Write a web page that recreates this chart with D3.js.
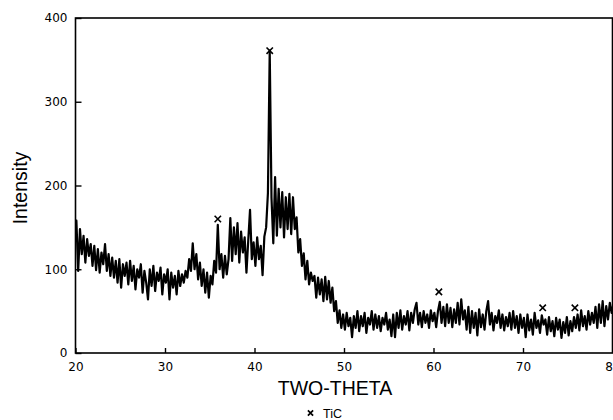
<!DOCTYPE html>
<html>
<head>
<meta charset="utf-8">
<script src="https://cdn.jsdelivr.net/npm/d3@7/dist/d3.min.js"></script>
<style>
  html, body { margin: 0; padding: 0; background: #fff; }
  svg { display: block; }
</style>
</head>
<body>
<svg id="chart" width="613" height="420"></svg>
<script>
// ---- data ----
// two-theta grid: starts at 19.9, step 0.2
const thetaStart = 19.9;
const thetaStep = 0.2;
const intensity = [
  150, 158, 98, 148, 118, 140, 108, 136, 116, 130,
  104, 128, 99, 124, 96, 120, 106, 130, 98, 118,
  92, 114, 90, 110, 84, 112, 78, 106, 92, 108,
  82, 110, 86, 104, 76, 100, 90, 106, 72, 98,
  84, 64, 100, 80, 104, 74, 96, 86, 102, 70,
  94, 84, 100, 64, 96, 78, 92, 70, 98, 80,
  94, 84, 98, 90, 112, 98, 131, 100, 118, 88,
  108, 80, 100, 72, 96, 66, 92, 82, 110, 96,
  153, 100, 118, 90, 116, 94, 112, 161, 110, 150,
  118, 155, 108, 145, 120, 138, 96, 134, 171, 112,
  132, 104, 138, 112, 128, 93, 139, 150, 191, 361,
  185, 131, 210, 140, 196, 150, 192, 138, 186, 148,
  190, 142, 186, 148, 162, 120, 136, 104, 119, 88,
  110, 82, 96, 86, 92, 66, 90, 70, 88, 62,
  91, 64, 86, 60, 78, 50, 62, 36, 51, 30,
  46, 28, 48, 32, 42, 19, 44, 30, 50, 26,
  44, 32, 48, 24, 42, 34, 50, 28, 46, 30,
  44, 26, 42, 34, 48, 28, 40, 20, 46, 19,
  48, 30, 51, 28, 44, 34, 50, 27, 48, 36,
  52, 60, 34, 48, 31, 50, 36, 46, 30, 51,
  38, 48, 31, 50, 61, 36, 55, 32, 58, 36,
  54, 31, 52, 36, 60, 34, 64, 40, 51, 28,
  55, 24, 50, 30, 48, 21, 52, 31, 46, 28,
  50, 62, 34, 48, 27, 44, 36, 51, 30, 46,
  27, 43, 32, 48, 28, 50, 30, 44, 24, 46,
  30, 42, 19, 46, 27, 40, 22, 48, 30, 39,
  24, 45, 34, 40, 22, 43, 26, 38, 20, 42,
  28, 40, 18, 37, 24, 43, 21, 38, 26, 43,
  30, 46, 27, 51, 32, 44, 28, 50, 34, 48,
  36, 55, 30, 58, 36, 62, 32, 56, 40, 60,
  48, 58
];
// TiC reflections marked with x
const ticTheta = [35.9, 41.7, 60.6, 72.2, 75.8];
const ticMarkY = [160, 361, 73, 54, 54];

const xTicks = [20, 30, 40, 50, 60, 70, 80];
const yTicks = [0, 100, 200, 300, 400];
const xLabel = "TWO-THETA";
const yLabel = "Intensity";
const legendLabel = "TiC";

// ---- chart ----
const svg = d3.select("#chart");
const L = 75.5, R = 612.5, T = 18, B = 353;
const x = d3.scaleLinear().domain([20, 80]).range([L, R]);
const y = d3.scaleLinear().domain([0, 400]).range([B, T]);

const data = intensity.map((v, i) => [thetaStart + i * thetaStep, v]);

svg.append("defs").append("clipPath").attr("id", "clip")
  .append("rect").attr("x", L).attr("y", T - 2).attr("width", R - L).attr("height", B - T + 2);

// data line
svg.append("path")
  .datum(data)
  .attr("clip-path", "url(#clip)")
  .attr("fill", "none")
  .attr("stroke", "#000")
  .attr("stroke-width", 2.2)
  .attr("stroke-linejoin", "round")
  .attr("d", d3.line().x(d => x(d[0])).y(d => y(d[1])));

// frame
svg.append("rect")
  .attr("x", L).attr("y", T).attr("width", R - L).attr("height", B - T)
  .attr("fill", "none").attr("stroke", "#000").attr("stroke-width", 1.6);

// axes (ticks pointing inward)
const fontTick = "'DejaVu Sans', 'Liberation Sans', Arial, sans-serif";
const xAxis = svg.append("g").attr("transform", `translate(0,${B})`)
  .call(d3.axisBottom(x).tickValues(xTicks).tickSize(-5).tickPadding(9).tickFormat(d3.format("d")));
xAxis.select(".domain").remove();
xAxis.selectAll("line").attr("stroke", "#000").attr("stroke-width", 1.4);
xAxis.selectAll("text").attr("font-family", fontTick).attr("font-size", 12).attr("fill", "#000");

const yAxis = svg.append("g").attr("transform", `translate(${L},0)`)
  .call(d3.axisLeft(y).tickValues(yTicks).tickSize(-6).tickPadding(8).tickFormat(d3.format("d")));
yAxis.select(".domain").remove();
yAxis.selectAll("line").attr("stroke", "#000").attr("stroke-width", 1.4);
yAxis.selectAll("text").attr("font-family", fontTick).attr("font-size", 12).attr("fill", "#000");

// TiC markers
const hs = 3.2;
const markG = svg.append("g").attr("stroke", "#000").attr("stroke-width", 1.6);
ticTheta.forEach((t, i) => {
  const cx = x(t), cy = y(ticMarkY[i]);
  markG.append("path").attr("d", `M${cx - hs},${cy - hs}L${cx + hs},${cy + hs}M${cx - hs},${cy + hs}L${cx + hs},${cy - hs}`);
});

// axis titles
const fontTitle = "'Liberation Sans', Arial, Helvetica, sans-serif";
svg.append("text")
  .attr("x", (L + R) / 2 - 9).attr("y", 395)
  .attr("text-anchor", "middle")
  .attr("font-family", fontTitle).attr("font-size", 19.5)
  .text(xLabel);

svg.append("text")
  .attr("transform", "translate(27,188) rotate(-90)")
  .attr("text-anchor", "middle")
  .attr("font-family", fontTitle).attr("font-size", 19.5)
  .text(yLabel);

// legend
const lg = svg.append("g");
const lx = 310.5, ly = 413, lh = 2.6;
lg.append("path")
  .attr("d", `M${lx - lh},${ly - lh}L${lx + lh},${ly + lh}M${lx - lh},${ly + lh}L${lx + lh},${ly - lh}`)
  .attr("stroke", "#000").attr("stroke-width", 1.7);
lg.append("text")
  .attr("x", 323).attr("y", 418)
  .attr("font-family", fontTitle).attr("font-size", 12.5)
  .text(legendLabel);
</script>
</body>
</html>
